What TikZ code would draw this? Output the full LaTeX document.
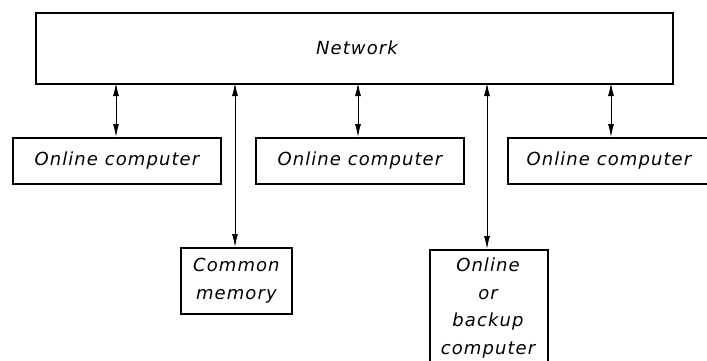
\documentclass[tikz,border=0pt]{standalone}
\usepackage{fontspec}
\newfontfamily\letfont[LetterSpace=6]{DejaVu Sans}
\usetikzlibrary{arrows.meta}
\begin{document}
\begin{tikzpicture}[x=1pt,y=-1pt,
  box/.style={draw,line width=1.8pt,inner sep=0pt,anchor=north west},
  lbl/.style={font=\letfont\itshape\fontsize{18}{27.5}\selectfont,align=center,inner sep=0pt},
  link/.style={line width=0.9pt,{Latex[length=13pt,width=6pt]}-{Latex[length=13pt,width=6pt]}}]
\useasboundingbox (0,0) rectangle (707,361);
\clip (0,0) rectangle (707,361);
\node[box,minimum width=637pt,minimum height=71pt] (net) at (35,12) {};
\node[lbl] (netl) at (357,48) {Network};
\node[box,minimum width=208pt,minimum height=46pt] (oc1) at (12,137) {};
\node[lbl] at (oc1.center) {Online computer};
\node[box,minimum width=208pt,minimum height=46pt] (oc2) at (255,137) {};
\node[lbl] at (oc2.center) {Online computer};
\node[box,minimum width=210pt,minimum height=46pt] (oc3) at (507,137) {};
\node[lbl] at ([xshift=-4pt]oc3.center) {Online computer};
\node[box,minimum width=111pt,minimum height=66pt] (cm) at (180,247) {};
\node[lbl] at (cm.center) {Common\\memory};
\node[box,minimum width=118pt,minimum height=130pt] (bk) at (429,249) {};
\node[lbl,anchor=north] at (488,258) {Online\\or\\backup\\computer};
\coordinate (n1) at (116,83); \coordinate (c1) at (116,137);
\coordinate (n2) at (358,83); \coordinate (c2) at (358,137);
\coordinate (n3) at (611,83); \coordinate (c3) at (611,137);
\coordinate (n4) at (235,83); \coordinate (c4) at (235,247);
\coordinate (n5) at (487,83); \coordinate (c5) at (487,249);
\draw[link] (n1) -- (c1);
\draw[link] (n2) -- (c2);
\draw[link] (n3) -- (c3);
\draw[link] (n4) -- (c4);
\draw[link] (n5) -- (c5);
\end{tikzpicture}
\end{document}
